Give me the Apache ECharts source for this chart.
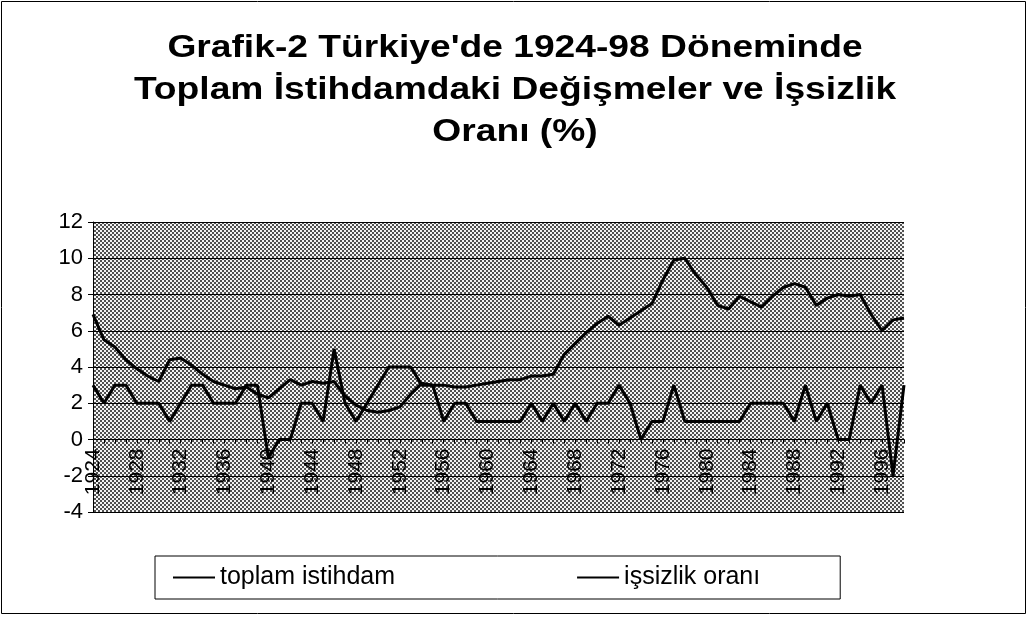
<!DOCTYPE html>
<html>
<head>
<meta charset="utf-8">
<script src="https://cdn.jsdelivr.net/npm/echarts@6/dist/echarts.min.js"></script>
<style>
    html, body { margin: 0; padding: 0; background: #fff; }
    .box { width: 1028px; height: 617px; }
</style>
</head>
<body>
<div class="box"></div>
<script>
// yillar 1924-1998
var years = []
for (var y = 1924; y <= 1998; y++) years.push(String(y))

// toplam istihdam degisimi (%)
var istihdam = [3, 2, 3, 3, 2, 2, 2, 1, 2, 3, 3, 2, 2, 2, 3, 3, -1, 0, 0, 2,
    2, 1, 5, 2, 1, 2, 3, 4, 4, 4, 3, 3, 1, 2, 2, 1, 1, 1, 1, 1,
    2, 1, 2, 1, 2, 1, 2, 2, 3, 2, 0, 1, 1, 3, 1, 1, 1, 1, 1, 1,
    2, 2, 2, 2, 1, 3, 1, 2, 0, 0, 3, 2, 3, -2, 3]

// issizlik orani (%)
var issizlik = [6.9, 5.5, 5.1, 4.4, 3.9, 3.5, 3.2, 4.4, 4.5, 4.1, 3.6, 3.2, 3.0, 2.8, 2.9, 2.5,
    2.3, 2.8, 3.3, 3.0, 3.2, 3.1, 3.2, 2.4, 1.9, 1.6, 1.5, 1.6, 1.8, 2.5,
    3.1, 3.0, 3.0, 2.9, 2.9, 3.0, 3.1, 3.2, 3.3, 3.3, 3.5, 3.5, 3.6, 4.7,
    5.3, 5.9, 6.4, 6.8, 6.3, 6.7, 7.1, 7.5, 8.8, 9.9, 10.0, 9.1, 8.4, 7.4,
    7.2, 7.9, 7.6, 7.3, 7.9, 8.4, 8.6, 8.4, 7.4, 7.8, 8.0, 7.9, 8.0, 6.9,
    6.0, 6.6, 6.7]

var yTicks = [-4, -2, 0, 2, 4, 6, 8, 10, 12]

var titleText = "Grafik-2 Türkiye'de 1924-98 Döneminde\nToplam İstihdamdaki Değişmeler ve İşsizlik\nOranı (%)"

// tarama deseni (excel'deki noktali zemin)
var pc = document.createElement('canvas')
pc.width = 4; pc.height = 4
var ctx = pc.getContext('2d')
ctx.fillStyle = '#f4f4f4'
ctx.fillRect(0, 0, 4, 4)
ctx.fillStyle = '#505050'
ctx.fillRect(0, 0, 2, 2)
ctx.fillRect(2, 2, 2, 2)

var gridTop = 222, gridBottom = 105
var plotH = 617 - gridTop - gridBottom
// x ekseni sifir cizgisinde dursun
var xOffset = -plotH * (0 - yTicks[0]) / (yTicks[yTicks.length - 1] - yTicks[0])

var myChart = echarts.init(document.querySelector('.box'))
myChart.setOption({
    animation: false,
    textStyle: { fontFamily: 'Liberation Sans, Arial, sans-serif' },
    graphic: [{
        type: 'rect',
        shape: { x: 1.5, y: 1.5, width: 1024, height: 612 },
        style: { fill: null, stroke: '#000', lineWidth: 1 }
    }, {
        // baslik, taramadaki gibi biraz genis
        type: 'text',
        x: 515,
        y: 27,
        scaleX: 1.2,
        style: {
            text: titleText,
            fill: '#000',
            font: 'bold 31px "Liberation Sans", Arial, sans-serif',
            lineHeight: 42,
            align: 'center',
            verticalAlign: 'top'
        }
    }],
    legend: {
        left: 155,
        top: 556,
        padding: [9, 80, 9, 18],
        borderColor: '#000',
        borderWidth: 1,
        itemGap: 182,
        itemWidth: 42,
        itemHeight: 2,
        icon: 'rect',
        textStyle: { fontSize: 25, color: '#000' },
        data: ['toplam istihdam', 'işsizlik oranı']
    },
    grid: {
        left: 93,
        right: 124,
        top: gridTop,
        bottom: gridBottom,
        show: true,
        borderWidth: 0,
        backgroundColor: { image: pc, repeat: 'repeat' }
    },
    xAxis: {
        type: 'category',
        data: years,
        boundaryGap: false,
        offset: xOffset,
        axisLine: { onZero: false, lineStyle: { color: '#000', width: 1 } },
        axisTick: { show: true, interval: 0, length: 4, lineStyle: { color: '#000' } },
        axisLabel: { interval: 3, rotate: 90, fontSize: 21, color: '#000', margin: 9 },
        splitLine: { show: false }
    },
    yAxis: {
        type: 'value',
        min: yTicks[0],
        max: yTicks[yTicks.length - 1],
        interval: 2,
        axisLine: { show: true, lineStyle: { color: '#000', width: 1 } },
        axisTick: { show: true, length: 5, lineStyle: { color: '#000' } },
        axisLabel: { fontSize: 22, color: '#000', margin: 10 },
        splitLine: { lineStyle: { color: '#000', width: 1 } }
    },
    series: [{
        name: 'toplam istihdam',
        type: 'line',
        data: istihdam,
        symbol: 'none',
        lineStyle: { color: '#000', width: 3 },
        itemStyle: { color: '#000' }
    }, {
        name: 'işsizlik oranı',
        type: 'line',
        data: issizlik,
        symbol: 'none',
        lineStyle: { color: '#000', width: 3 },
        itemStyle: { color: '#000' }
    }]
})
</script>
</body>
</html>
